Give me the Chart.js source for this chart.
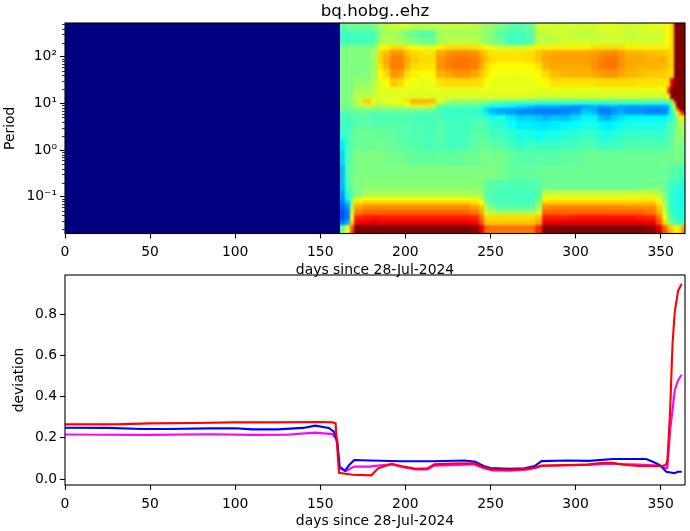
<!DOCTYPE html>
<html>
<head>
<meta charset="utf-8">
<script src="https://cdn.jsdelivr.net/npm/chart.js@4/dist/chart.umd.min.js"></script>
<style>
  html, body { margin: 0; padding: 0; background: #fff; }
  body { width: 690px; height: 531px; position: relative; overflow: hidden; }
  canvas { position: absolute; left: 0; display: block; }
  #heatChart { top: 0; }
  #lineChart { top: 262px; }
</style>
</head>
<body>
<canvas id="heatChart" width="690" height="279"></canvas>
<canvas id="lineChart" width="690" height="268"></canvas>
<script>
// Tick labels
const dayTicks = [0, 50, 100, 150, 200, 250, 300, 350];
const deviationTicks = [0, 0.2, 0.4, 0.6, 0.8];
const decadeTicks = [0.1, 1, 10, 100];
const minorPeriodTicks = [0.02, 0.03, 0.04, 0.05, 0.06, 0.07, 0.08, 0.09, 0.2, 0.3, 0.4, 0.5, 0.6, 0.7, 0.8, 0.9, 2, 3, 4, 5, 6, 7, 8, 9, 20, 30, 40, 50, 60, 70, 80, 90, 200, 300, 400, 500];
const decadeLabels = { 0.1: '10⁻¹', 1: '10⁰', 10: '10¹', 100: '10²' };

// Heatmap cell edges
const dayEdges = [0, 161.5, 164.5, 167.5, 170, 175, 180, 184, 187, 191, 195, 199, 203, 208, 213, 218, 223, 228, 233, 238, 243, 246, 249, 253, 259, 265, 271, 276, 280, 285, 291, 297, 303, 309, 313, 317, 321, 325, 329, 335, 341, 347, 351, 354, 355.7, 357.7, 359.3, 361, 362.5, 364.3];
const periodEdges = [525, 372, 263, 178, 138, 102, 74, 52, 35, 22, 16, 12.3, 10.7, 9.3, 7.9, 6.9, 5.6, 4.2, 2.7, 1.66, 1, 0.48, 0.23, 0.14, 0.1, 0.081, 0.066, 0.052, 0.041, 0.032, 0.025, 0.02, 0.0163];

// Heatmap levels (0-100 along the colour scale), one row per period band
const heatRows = [
  [0, 46,48,48,48,48,50, 54,55,57,58,57,55,55,55, 56,56,56,56,56,54, 52,52,50,46,46,48, 58,58,58,58,58,58,58,60,60,60,58,58,58,60,60,60,62, 66,100,100,100,100],
  [0, 44,44,44,44,44,45, 52,54,54,52,48,48,46,46, 54,54,54,54,54,52, 52,50,46,44,44,46, 56,56,58,58,56,56,56,58,58,58,58,56,58,58,58,60,62, 66,100,100,100,100],
  [0, 44,44,44,44,44,46, 54,55,55,54,52,50,48,48, 54,56,56,56,56,54, 52,50,48,44,44,46, 56,56,56,58,58,58,58,58,58,58,58,58,58,58,58,60,62, 66,100,100,100,100],
  [0, 50,50,50,50,50,52, 60,64,66,66,64,62,60,60, 64,66,66,66,66,64, 62,60,58,58,58,60, 64,64,64,64,64,64,66,66,66,66,66,64,64,64,64,64,64, 66,100,100,100,100],
  [0, 50,50,50,50,50,54, 66,69,73,73,69,66,65,65, 71,73,74,74,73,70, 67,65,65,65,65,66, 68,70,71,71,71,71,72,73,74,74,72,70,70,69,69,68,67, 66,100,100,100,100],
  [0, 50,50,50,50,50,54, 67,71,75,75,71,68,66,66, 73,75,76,76,75,72, 68,66,65,65,65,66, 68,71,72,72,72,72,73,75,76,76,73,71,71,70,70,70,68, 66,100,100,100,100],
  [0, 50,50,50,50,50,54, 65,70,75,75,70,66,65,65, 73,75,76,76,75,71, 66,63,62,62,62,63, 65,70,71,71,71,71,73,75,76,76,73,71,70,70,70,69,68, 66,100,100,100,100],
  [0, 50,50,50,50,50,54, 63,66,73,72,66,64,63,63, 70,71,73,73,71,68, 65,62,61,61,61,62, 63,66,69,70,70,70,71,72,73,73,71,70,69,68,68,68,66, 66,100,100,100,100],
  [0, 50,50,50,52,52,55, 60,62,68,66,62,61,60,60, 65,66,66,66,66,65, 62,60,60,60,60,60, 61,63,65,65,65,65,65,66,66,66,66,66,65,65,65,65,65, 90,100,100,100,100],
  [0, 50,50,50,54,54,56, 60,60,60,60,60,60,60,60, 60,60,60,60,60,60, 60,60,60,60,60,60, 60,60,60,60,60,60,60,60,60,60,60,60,60,60,60,60,80, 100,100,100,100,100],
  [0, 50,50,52,56,56,58, 59,59,59,59,59,59,59,59, 59,59,59,59,59,59, 59,59,59,59,59,59, 58,58,58,58,58,58,58,58,58,58,58,58,58,58,58,58,62, 100,100,100,100,100],
  [0, 50,50,50,56,68,60, 58,60,62,62,66,70,70,70, 60,54,52,52,52,52, 52,52,52,50,50,48, 48,48,48,48,48,48,48,48,48,48,48,48,48,48,48,48,50, 70,100,100,100,100],
  [0, 50,50,50,56,66,58, 56,58,60,60,62,68,68,66, 54,50,50,50,50,48, 48,44,42,42,42,42, 41,41,41,41,41,41,41,41,41,41,41,41,41,41,41,41,41, 48,70,100,100,100],
  [0, 50,50,50,54,56,54, 52,54,54,54,56,58,58,56, 48,46,46,46,46,44, 42,38,38,36,34,32, 28,30,30,28,27,28,30,28,29,30,28,28,28,27,27,28,32, 46,62,100,100,100],
  [0, 48,48,48,50,50,50, 50,50,50,50,50,50,50,50, 44,42,42,42,42,40, 34,30,28,28,27,26, 25,25,25,25,26,31,29,24,24,27,29,26,26,25,25,25,30, 44,58,76,100,100],
  [0, 46,46,46,47,47,46, 46,46,46,46,46,46,46,46, 44,43,43,43,43,42, 36,32,30,28,26,26, 26,25,25,26,28,33,31,26,25,28,30,28,28,26,26,26,32, 42,50,60,76,88],
  [0, 44,44,44,46,46,44, 45,45,45,45,45,44,44,44, 45,43,43,44,44,44, 42,40,40,36,33,33, 32,30,32,31,34,37,37,31,29,33,35,37,37,37,37,37,40, 42,46,50,60,66],
  [0, 44,44,44,47,47,46, 46,46,46,46,46,45,45,44, 46,44,44,44,45,46, 44,42,42,39,36,36, 35,35,36,37,38,40,40,37,36,37,39,40,40,40,40,40,44, 45,48,52,54,54],
  [0, 42,44,46,48,48,48, 48,47,47,46,46,45,45,45, 46,44,44,44,46,46, 46,44,44,42,40,40, 38,40,40,41,42,43,43,40,40,41,42,43,43,43,43,43,46, 46,50,52,52,52],
  [0, 36,44,46,48,48,48, 49,48,48,46,46,46,45,44, 45,44,44,45,46,48, 48,46,46,44,42,44, 42,43,43,44,44,45,45,43,43,44,44,45,45,45,45,45,47, 47,50,50,50,50],
  [0, 34,45,47,50,50,50, 50,49,49,49,48,47,47,47, 47,47,47,48,48,49, 50,49,49,47,46,46, 46,46,46,47,47,48,48,48,48,48,48,48,48,48,48,48,49, 48,50,50,48,48],
  [0, 31,46,48,50,50,50, 50,50,50,50,50,50,50,50, 50,50,50,50,50,50, 50,50,49,47,47,47, 48,48,48,48,48,48,48,48,48,48,48,48,48,48,48,48,48, 46,46,46,44,44],
  [0, 31,44,48,50,51,51, 51,51,51,51,51,51,51,51, 51,51,51,51,51,50, 47,46,45,45,45,45, 46,48,48,48,48,48,48,48,48,48,48,48,48,49,49,48,45, 43,43,43,41,41],
  [0, 28,42,46,50,54,54, 54,54,54,54,54,54,54,54, 54,54,54,54,54,52, 46,45,44,44,44,44, 46,57,57,57,57,57,57,57,57,57,57,57,57,57,55,51,44, 42,41,41,40,40],
  [0, 26,38,50,60,62,62, 62,62,62,62,62,62,62,62, 62,62,62,62,60,58, 48,45,44,44,44,44, 48,62,64,64,64,64,64,64,64,64,64,64,64,64,60,52,44, 42,41,40,40,40],
  [0, 24,32,50,66,68,68, 68,68,68,68,68,68,68,68, 68,68,68,68,66,62, 50,46,45,45,45,45, 50,68,68,68,68,68,68,68,68,68,68,68,68,68,64,54,45, 42,41,40,40,40],
  [0, 22,27,54,72,74,74, 74,74,74,74,74,74,74,74, 74,74,74,74,72,68, 54,49,46,46,46,46, 54,74,75,75,75,75,75,75,75,75,75,74,74,74,68,56,46, 42,41,40,40,40],
  [0, 20,24,58,76,78,78, 78,78,78,78,78,78,78,78, 78,78,78,78,76,72, 58,56,54,54,54,54, 58,78,78,78,78,78,78,78,78,78,78,78,78,76,70,58,47, 44,41,40,40,42],
  [0, 20,24,62,84,85,86, 85,85,85,85,85,85,85,85, 85,85,85,85,84,76, 66,66,66,66,66,66, 68,85,85,85,86,86,86,86,86,86,86,86,85,84,76,62,48, 45,43,42,41,42],
  [0, 24,30,66,88,89,90, 89,89,89,89,89,89,89,89, 89,89,89,89,88,80, 68,68,68,68,68,68, 72,89,89,90,90,90,90,90,90,90,90,90,89,88,80,66,52, 48,45,43,43,45],
  [0, 46,60,78,100,100,100, 100,100,100,100,100,100,100,100, 100,100,100,100,98,90, 78,76,76,76,76,76, 84,100,100,100,100,100,100,100,100,100,100,100,100,98,90,78,70, 66,62,60,66,72],
  [0, 48,62,80,100,100,100, 100,100,100,100,100,100,100,100, 100,100,100,100,98,90, 78,76,76,76,76,76, 84,100,100,100,100,100,100,100,100,100,100,100,100,98,92,80,72, 68,66,62,68,74]
];

// Deviation series
const redDays = [0, 30, 50, 75, 100, 125, 150, 157, 159, 161, 169, 180, 184, 192, 199, 206, 213, 217, 228, 240, 246, 251, 261, 267, 276, 280, 295, 307, 316, 322, 328, 337, 350, 353, 354, 355.5, 357, 358.3, 360.3, 362.4];
const redValues = [0.265, 0.265, 0.27, 0.272, 0.275, 0.275, 0.277, 0.275, 0.27, 0.03, 0.021, 0.018, 0.052, 0.074, 0.06, 0.05, 0.052, 0.071, 0.075, 0.076, 0.057, 0.047, 0.045, 0.047, 0.055, 0.065, 0.068, 0.07, 0.079, 0.079, 0.069, 0.063, 0.062, 0.068, 0.092, 0.319, 0.66, 0.812, 0.914, 0.947];

const blueDays = [0, 25, 45, 60, 85, 100, 110, 125, 140, 147, 155, 158, 160, 161.4, 164.4, 167, 170, 179, 198, 216, 235, 241, 246, 250, 261, 270, 276, 280, 295, 308, 322, 341.5, 345.4, 349.5, 353.3, 358.2, 360, 362.4];
const blueValues = [0.249, 0.248, 0.243, 0.243, 0.246, 0.246, 0.241, 0.241, 0.248, 0.259, 0.248, 0.23, 0.175, 0.06, 0.04, 0.068, 0.092, 0.09, 0.086, 0.086, 0.09, 0.084, 0.063, 0.053, 0.05, 0.052, 0.063, 0.087, 0.09, 0.088, 0.097, 0.097, 0.084, 0.068, 0.035, 0.028, 0.035, 0.035];

const magentaDays = [0, 25, 50, 85, 110, 130, 147, 157, 160, 161, 165, 170, 179, 184, 192, 199, 206, 213, 217, 240, 246, 251, 261, 270, 276, 280, 295, 310, 320, 337, 349, 353, 354, 355.6, 357, 358.3, 360.3, 362.4];
const magentaValues = [0.216, 0.215, 0.214, 0.217, 0.214, 0.215, 0.225, 0.218, 0.19, 0.053, 0.039, 0.06, 0.06, 0.065, 0.071, 0.057, 0.047, 0.047, 0.065, 0.071, 0.052, 0.042, 0.04, 0.044, 0.052, 0.063, 0.066, 0.07, 0.074, 0.07, 0.066, 0.052, 0.055, 0.238, 0.335, 0.432, 0.48, 0.506];

const FONT = "'DejaVu Sans', sans-serif";
Chart.defaults.font.family = FONT;
Chart.defaults.font.size = 13.9;
Chart.defaults.color = '#000';

// matplotlib jet colour map
function jet(level) {
  const t = level / 100;
  const clip = v => Math.round(255 * Math.max(0, Math.min(1, v)));
  return `rgb(${clip(1.5 - Math.abs(4 * t - 3))},${clip(1.5 - Math.abs(4 * t - 2))},${clip(1.5 - Math.abs(4 * t - 1))})`;
}

function buildCells() {
  const cells = [];
  heatRows.forEach((row, r) => {
    row.forEach((level, c) => {
      cells.push({
        x: dayEdges[c], x1: dayEdges[c + 1],
        y: periodEdges[r], y1: periodEdges[r + 1],
        row: r, col: c, level: level
      });
    });
  });
  return cells;
}

function toPoints(days, values) {
  return days.map((d, i) => ({ x: d, y: values[i] }));
}

// Paints the heatmap cells through the chart's scales. Cells with data go on a
// side canvas first so they can be softened, the edge ones stretched past the plot.
const heatCellsPlugin = {
  id: 'heatCells',
  beforeDatasetsDraw(chart) {
    const { ctx, chartArea, scales } = chart;
    const set = chart.data.datasets[0];
    const lastRow = heatRows.length - 1;
    const lastCol = dayEdges.length - 2;
    const side = document.createElement('canvas');
    side.width = chart.width;
    side.height = chart.height;
    const sideCtx = side.getContext('2d');

    ctx.save();
    ctx.beginPath();
    ctx.rect(chartArea.left, chartArea.top, chartArea.width, chartArea.height);
    ctx.clip();
    set.data.forEach(cell => {
      let x0 = Math.round(scales.x.getPixelForValue(cell.x));
      let x1 = Math.round(scales.x.getPixelForValue(cell.x1));
      let y0 = Math.round(scales.y.getPixelForValue(cell.y));
      let y1 = Math.round(scales.y.getPixelForValue(cell.y1));
      if (cell.col === 0) {
        ctx.fillStyle = jet(cell.level);
        ctx.fillRect(x0, y0, x1 - x0, y1 - y0);
        return;
      }
      if (cell.col === 1) x0 -= 8;
      if (cell.col === lastCol) x1 += 8;
      if (cell.row === 0) y0 -= 8;
      if (cell.row === lastRow) y1 += 8;
      sideCtx.fillStyle = jet(cell.level);
      sideCtx.fillRect(x0, y0, x1 - x0, y1 - y0);
    });
    ctx.beginPath();
    const startX = Math.round(scales.x.getPixelForValue(dayEdges[1]));
    ctx.rect(startX, chartArea.top, chartArea.right - startX, chartArea.height);
    ctx.clip();
    ctx.filter = 'blur(1.2px)';
    ctx.drawImage(side, 0, 0);
    ctx.restore();
  }
};

// Box around the plot and the small log ticks
const framePlugin = {
  id: 'frame',
  afterDraw(chart) {
    const { ctx, chartArea, scales } = chart;
    ctx.save();
    ctx.strokeStyle = '#000';
    ctx.lineWidth = 1.1;
    ctx.strokeRect(chartArea.left, chartArea.top, chartArea.width, chartArea.height);
    if (chart.canvas.id === 'heatChart') {
      ctx.lineWidth = 0.8;
      ctx.beginPath();
      minorPeriodTicks.forEach(v => {
        const y = Math.round(scales.y.getPixelForValue(v)) + 0.5;
        ctx.moveTo(chartArea.left - 3, y);
        ctx.lineTo(chartArea.left, y);
      });
      ctx.stroke();
    }
    ctx.restore();
  }
};

function xAxis() {
  return {
    type: 'linear',
    min: 0,
    max: 364.3,
    afterBuildTicks: scale => { scale.ticks = dayTicks.map(v => ({ value: v })); },
    ticks: { autoSkip: false, maxRotation: 0, padding: 6, callback: v => String(v) },
    grid: { drawOnChartArea: false, tickLength: 5, tickColor: '#000', tickWidth: 1.1 },
    border: { display: false },
    title: { display: true, text: 'days since 28-Jul-2024', padding: { top: 0, bottom: 0 } }
  };
}

function initHeatChart() {
  const scales = {
    x: xAxis(),
    y: {
      type: 'logarithmic',
      min: 0.0163,
      max: 525,
      afterBuildTicks: scale => { scale.ticks = decadeTicks.map(v => ({ value: v, major: true })); },
      afterFit: scale => { scale.width = 65; },
      ticks: { autoSkip: false, padding: 3, callback: v => decadeLabels[v] || '' },
      grid: { drawOnChartArea: false, tickLength: 5, tickColor: '#000', tickWidth: 1.1 },
      border: { display: false },
      title: { display: true, text: 'Period', padding: { top: 2, bottom: 0 } }
    }
  };
  scales.x.afterFit = scale => { scale.height = 45.5; };

  new Chart(document.getElementById('heatChart'), {
    type: 'scatter',
    data: { datasets: [{ data: buildCells(), pointRadius: 0, showLine: false }] },
    options: {
      responsive: false,
      animation: false,
      devicePixelRatio: 1,
      layout: { padding: { left: 0, right: 5, top: 0, bottom: 0 } },
      plugins: {
        legend: { display: false },
        tooltip: { enabled: false },
        title: { display: true, text: 'bq.hobg..ehz', fullSize: false, color: '#000', font: { family: FONT, size: 16.67, weight: 'normal' }, padding: { top: 2, bottom: 1 } }
      },
      scales: scales
    },
    plugins: [heatCellsPlugin, framePlugin]
  });
}

function lineDataset(days, values, color) {
  return { data: toPoints(days, values), borderColor: color, borderWidth: 2.1, pointRadius: 0, showLine: true, fill: false, tension: 0 };
}

function initLineChart() {
  const scales = {
    x: xAxis(),
    y: {
      type: 'linear',
      min: -0.029,
      max: 0.99,
      afterBuildTicks: scale => { scale.ticks = deviationTicks.map(v => ({ value: v })); },
      afterFit: scale => { scale.width = 65; },
      ticks: { autoSkip: false, padding: 3, callback: v => v.toFixed(1) },
      grid: { drawOnChartArea: false, tickLength: 5, tickColor: '#000', tickWidth: 1.1 },
      border: { display: false },
      title: { display: true, text: 'deviation', padding: { top: 11, bottom: 0 } }
    }
  };
  scales.x.afterFit = scale => { scale.height = 45; };

  new Chart(document.getElementById('lineChart'), {
    type: 'scatter',
    data: {
      datasets: [
        lineDataset(redDays, redValues, '#ff0000'),
        lineDataset(blueDays, blueValues, '#0000ff'),
        lineDataset(magentaDays, magentaValues, '#ff00ff')
      ]
    },
    options: {
      responsive: false,
      animation: false,
      devicePixelRatio: 1,
      layout: { padding: { left: 0, right: 5, top: 13, bottom: 0 } },
      plugins: { legend: { display: false }, tooltip: { enabled: false } },
      scales: scales
    },
    plugins: [framePlugin]
  });
}

document.addEventListener('DOMContentLoaded', () => {
  initHeatChart();
  initLineChart();
});
</script>
</body>
</html>
